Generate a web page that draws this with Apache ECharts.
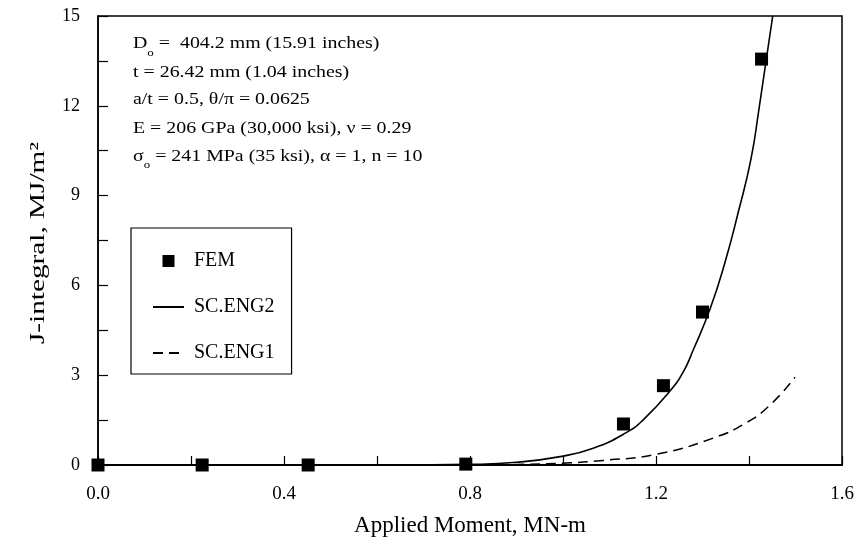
<!DOCTYPE html>
<html>
<head>
<meta charset="utf-8">
<script src="https://cdn.jsdelivr.net/npm/echarts@6/dist/echarts.min.js"></script>
<style>
  html, body { margin: 0; padding: 0; background: #fff; }
  #chart { width: 855px; height: 539px; }
</style>
</head>
<body>
<div id="chart"></div>
<script>
// FEM results: applied moment (MN-m) and J-integral (MJ/m^2)
const femMoment = [0.0, 0.224, 0.452, 0.791, 1.130, 1.216, 1.300, 1.427];
const femJ      = [0.0, 0.0,   0.0,   0.03,  1.37,  2.65,  5.11,  13.56];

// SC.ENG2 estimation curve
const eng2Moment = [0.0, 0.45, 0.70, 0.80, 0.90, 0.994, 1.065, 1.137, 1.172, 1.230, 1.259, 1.280, 1.316, 1.348, 1.377, 1.404, 1.4215, 1.451];
const eng2J      = [0.0, 0.0,  0.005, 0.02, 0.09, 0.28, 0.56,  1.09,  1.50,  2.47,  3.12,  3.84,  5.20,  6.75,  8.45,  10.2,  11.9,   15.0];

// SC.ENG1 estimation curve
const eng1Moment = [0.0, 0.45, 0.80, 0.90, 1.008, 1.086, 1.201, 1.323, 1.395, 1.445, 1.499];
const eng1J      = [0.0, 0.0,  0.003, 0.02, 0.07, 0.15,  0.36,  0.90,  1.42,  2.00,  2.93];

// Axis ticks
const xMin = 0, xMax = 1.6, xStep = 0.2;
const yMin = 0, yMax = 15, yStep = 1.5;

const seriesNames = ['FEM', 'SC.ENG2', 'SC.ENG1'];
const xTitle = 'Applied Moment, MN-m';
const yTitle = 'J-integral, MJ/m²';

const pairs = (xs, ys) => xs.map((x, i) => [x, ys[i]]);

const FONT = 'Liberation Serif';
const chart = echarts.init(document.getElementById('chart'), null, { renderer: 'canvas' });

// Input parameters block (D_o and sigma_o use a lowered small "o")
const noteStyle = {
  a: { fontFamily: FONT, fontSize: 17, lineHeight: 22, fill: '#000' },
  s: { fontFamily: FONT, fontSize: 11, lineHeight: 11, padding: [18, 0, 0, 0], fill: '#000' }
};
const noteLines = [
  '{a|D}{s|o}{a| =  404.2 mm (15.91 inches)}',
  '{a|t = 26.42 mm (1.04 inches)}',
  '{a|a/t = 0.5, θ/π = 0.0625}',
  '{a|E = 206 GPa (30,000 ksi), ν = 0.29}',
  '{a|σ}{s|o}{a| = 241 MPa (35 ksi), α = 1, n = 10}'
];
const noteCenters = [43.8, 72.2, 99.8, 128.2, 156.2];

const hiddenMarker = { opacity: 0 };

chart.setOption({
  animation: false,
  backgroundColor: '#fff',
  textStyle: { fontFamily: FONT, color: '#000' },
  grid: {
    left: 98, right: 13, top: 16, bottom: 74,
    outerBoundsMode: 'none', containLabel: false,
    show: true, borderColor: '#000', borderWidth: 1.5, backgroundColor: 'transparent'
  },
  legend: {
    orient: 'vertical',
    left: 131, top: 228,
    data: [
      { name: seriesNames[0], icon: 'path://M0,0H10V10H0Z' },
      { name: seriesNames[1], itemStyle: hiddenMarker },
      { name: seriesNames[2], itemStyle: hiddenMarker }
    ],
    itemWidth: 31, itemHeight: 12, itemGap: 26,
    padding: [23, 17, 11, 21],
    borderColor: '#000', borderWidth: 1.2,
    textStyle: { fontFamily: FONT, fontSize: 20, color: '#000', padding: [0, 0, 0, 5] }
  },
  xAxis: {
    type: 'value', min: xMin, max: xMax, interval: xStep,
    name: xTitle, nameLocation: 'middle', nameGap: 49,
    nameTextStyle: { fontFamily: FONT, fontSize: 23, color: '#000' },
    axisLine: { lineStyle: { color: '#000', width: 2 } },
    axisTick: { inside: true, length: 9, lineStyle: { color: '#000', width: 1.2 } },
    axisLabel: {
      margin: 20, fontFamily: FONT, fontSize: 19, color: '#000',
      formatter: v => (Math.round(v / xStep) % 2 === 0 ? v.toFixed(1) : '')
    },
    splitLine: { show: false }
  },
  yAxis: {
    type: 'value', min: yMin, max: yMax, interval: yStep,
    axisLine: { lineStyle: { color: '#000', width: 1.5 } },
    axisTick: { inside: true, length: 10, lineStyle: { color: '#000', width: 1.2 } },
    axisLabel: {
      margin: 18, fontFamily: FONT, fontSize: 18, color: '#000',
      formatter: v => (Math.round(v / yStep) % 2 === 0 ? String(Math.round(v)) : '')
    },
    splitLine: { show: false }
  },
  series: [
    {
      name: 'FEM', type: 'scatter', symbol: 'rect', symbolSize: 13,
      itemStyle: { color: '#000', opacity: 1 }, z: 5,
      data: pairs(femMoment, femJ)
    },
    {
      name: 'SC.ENG2', type: 'line', symbol: 'none', smooth: 0.5,
      lineStyle: { color: '#000', width: 1.6, type: 'solid' },
      itemStyle: { color: '#000' },
      data: pairs(eng2Moment, eng2J)
    },
    {
      name: 'SC.ENG1', type: 'line', symbol: 'none', smooth: 0.5,
      lineStyle: { color: '#000', width: 1.5, type: [10, 6] },
      itemStyle: { color: '#000' },
      data: pairs(eng1Moment, eng1J)
    }
  ],
  graphic: [
    // vertical axis title, drawn with wide letter spacing
    {
      type: 'text', x: 38, y: 243, rotation: Math.PI / 2, scaleX: 1.33,
      style: {
        text: yTitle, fontFamily: FONT, fontSize: 22, fill: '#000',
        align: 'center', verticalAlign: 'middle'
      }
    }
  ].concat(noteLines.map((line, i) => ({
    type: 'text', x: 133, y: noteCenters[i], scaleX: 1.17,
    style: { text: line, rich: noteStyle, fill: '#000', verticalAlign: 'middle', align: 'left' }
  })))
});
</script>
</body>
</html>
